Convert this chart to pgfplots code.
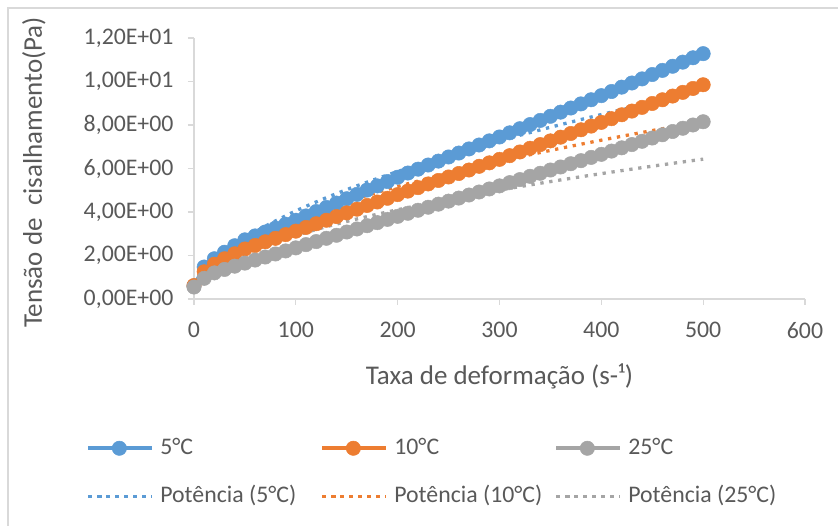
\documentclass[border=0pt]{standalone}
\usepackage{pgfplots}
\pgfplotsset{compat=1.18}
\usepackage{pgfplotstable}
\usepackage{fontspec}
\setmainfont{Carlito}

\definecolor{azul}{HTML}{5B9BD5}
\definecolor{laranja}{HTML}{ED7D31}
\definecolor{cinza}{HTML}{A5A5A5}
\definecolor{eixo}{HTML}{D9D9D9}
\definecolor{texto}{HTML}{595959}

% taxa de deformacao x tensao (5, 10, 25 C)
\pgfplotstableread{
x b o g
0 0.60 0.62 0.55
10 1.47 1.25 0.95
20 1.85 1.60 1.20
30 2.15 1.85 1.36
40 2.45 2.08 1.51
50 2.72 2.30 1.65
60 2.90 2.46 1.79
70 3.08 2.63 1.93
80 3.26 2.79 2.07
90 3.44 2.96 2.21
100 3.62 3.12 2.35
110 3.82 3.29 2.50
120 4.02 3.46 2.64
130 4.21 3.62 2.79
140 4.41 3.79 2.93
150 4.61 3.96 3.08
160 4.81 4.13 3.22
170 5.01 4.30 3.37
180 5.20 4.46 3.51
190 5.40 4.63 3.66
200 5.60 4.80 3.80
210 5.79 4.96 3.94
220 5.97 5.12 4.08
230 6.16 5.29 4.22
240 6.34 5.45 4.36
250 6.53 5.61 4.50
260 6.71 5.77 4.64
270 6.90 5.93 4.78
280 7.08 6.10 4.92
290 7.27 6.26 5.06
300 7.45 6.42 5.20
310 7.64 6.59 5.35
320 7.83 6.76 5.49
330 8.02 6.93 5.64
340 8.21 7.10 5.78
350 8.40 7.27 5.93
360 8.59 7.44 6.07
370 8.78 7.61 6.22
380 8.97 7.78 6.36
390 9.16 7.95 6.51
400 9.35 8.12 6.65
410 9.54 8.29 6.80
420 9.74 8.47 6.95
430 9.93 8.64 7.10
440 10.12 8.81 7.25
450 10.32 8.99 7.40
460 10.51 9.16 7.55
470 10.70 9.33 7.70
480 10.89 9.50 7.85
490 11.09 9.68 8.00
500 11.28 9.85 8.15
}\dados

% linhas de tendencia (potencia)
\pgfplotstableread{
x b o g
1 0.348 0.370 0.306
2 0.503 0.522 0.430
4 0.728 0.737 0.604
7 0.982 0.974 0.794
10 1.187 1.163 0.946
15 1.473 1.423 1.154
20 1.718 1.643 1.328
30 2.132 2.010 1.620
40 2.485 2.320 1.865
50 2.799 2.593 2.081
70 3.349 3.066 2.454
100 4.050 3.661 2.922
130 4.658 4.172 3.323
160 5.203 4.627 3.679
200 5.860 5.171 4.104
250 6.601 5.778 4.578
300 7.274 6.327 5.006
350 7.897 6.832 5.399
400 8.480 7.302 5.764
450 9.028 7.743 6.106
500 9.550 8.160 6.430
}\ajuste

\begin{document}
\begin{tikzpicture}[x=1pt,y=1pt]
\begin{axis}[
  at={(0,0)}, anchor=origin,
  width=611pt, height=261pt, scale only axis,
  xmin=0, xmax=600, ymin=0, ymax=12,
  axis lines*=left,
  axis line style={eixo, line width=1.3pt},
  tick style={eixo, line width=1.3pt},
  tick align=outside, major tick length=6pt,
  xtick={0,100,200,300,400,500,600},
  xticklabels={0,100,200,300,400,500,600},
  ytick={0,2,4,6,8,10,12},
  yticklabels={{0,00E+00},{2,00E+00},{4,00E+00},{6,00E+00},{8,00E+00},{1,00E+01},{1,20E+01}},
  tick label style={font=\fontsize{23.8pt}{28pt}\selectfont, text=texto},
  yticklabel style={xshift=-11pt},
  xticklabel style={yshift=-14pt},
  xlabel={Taxa de deformação (s-¹)},
  ylabel={Tensão de\ \ cisalhamento(Pa)},
  label style={font=\fontsize{27pt}{31pt}\selectfont, text=texto},
  xlabel style={at={(axis description cs:0.5,-0.295)}, anchor=center},
  ylabel style={at={(axis description cs:-0.262,0.485)}, anchor=center},
  clip=false,
  legend columns=3,
  legend cell align=left,
  legend style={at={(axis description cs:-0.1765,-0.529)}, anchor=north west,
    draw=none, fill=none, inner sep=0pt,
    font=\fontsize{23.8pt}{28pt}\selectfont, text=texto,
    nodes={text height=17pt, text depth=5pt, inner sep=0pt},
    row sep=26pt, column sep=0pt,
    /tikz/every odd column/.append style={column sep=6pt}},
  legend image code/.code={\draw[mark repeat=2,mark phase=2,#1] plot coordinates {(0pt,0pt) (31pt,0pt) (64pt,0pt)};},
  every axis plot/.append style={line join=round},
]
\addplot[azul, line width=4pt, mark=*, mark size=7.2pt, mark options={solid, fill=azul, line width=0.5pt}] table[x=x, y=b] {\dados};
\addlegendentry{\makebox[160pt][l]{5°C}}
\addplot[laranja, line width=4pt, mark=*, mark size=7.2pt, mark options={solid, fill=laranja, line width=0.5pt}] table[x=x, y=o] {\dados};
\addlegendentry{\makebox[160pt][l]{10°C}}
\addplot[cinza, line width=4pt, mark=*, mark size=7.2pt, mark options={solid, fill=cinza, line width=0.5pt}] table[x=x, y=g] {\dados};
\addlegendentry{\makebox[160pt][l]{25°C}}
\addplot[azul, smooth, line width=3.3pt, dash pattern=on 3.3pt off 5.7pt] table[x=x, y=b] {\ajuste};
\addlegendentry{\makebox[160pt][l]{Potência (5°C)}}
\addplot[laranja, smooth, line width=3.3pt, dash pattern=on 3.3pt off 5.7pt] table[x=x, y=o] {\ajuste};
\addlegendentry{\makebox[160pt][l]{Potência (10°C)}}
\addplot[cinza, smooth, line width=3.3pt, dash pattern=on 3.3pt off 5.7pt] table[x=x, y=g] {\ajuste};
\addlegendentry{\makebox[160pt][l]{Potência (25°C)}}
\end{axis}
\draw[eixo, line width=2pt] (-186,-227) -- (-186,291) -- (644,291);
\pgfresetboundingbox
\useasboundingbox (-194,-227) rectangle (644,299);
\end{tikzpicture}
\end{document}
